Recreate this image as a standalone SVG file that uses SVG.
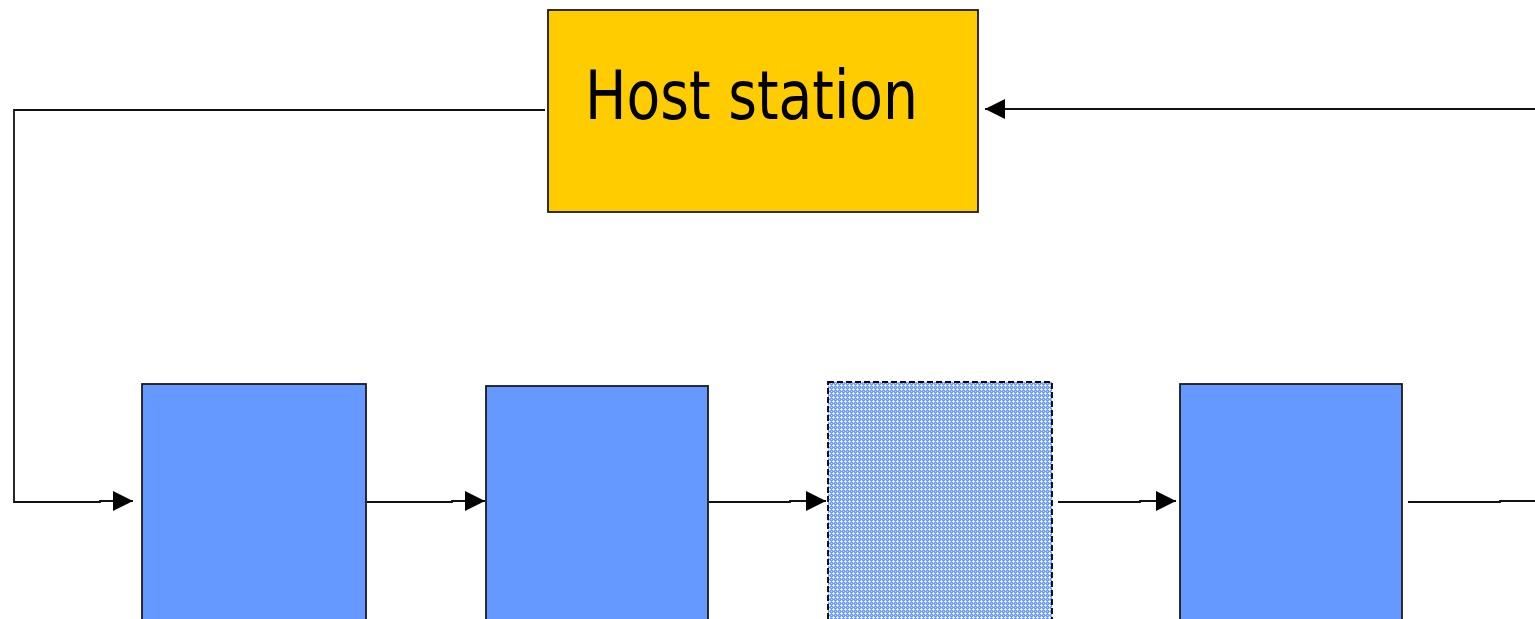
<svg xmlns="http://www.w3.org/2000/svg" width="1535" height="619" viewBox="0 0 1535 619">
  <style>
    .link { fill: none; stroke: #111; stroke-width: 1.8; }
    .block { fill: #6699ff; stroke: #1a1a1a; stroke-width: 1.8; }
    .host { fill: #ffcc00; stroke: #1a1a1a; stroke-width: 1.8; }
    .spare { fill: url(#hatch); stroke: #000; stroke-width: 1.8; stroke-dasharray: 6 3; }
    .label { font-family: "DejaVu Sans", Verdana, sans-serif; font-size: 67px; fill: #000; }
  </style>
  <defs>
    <marker id="arrow" markerUnits="userSpaceOnUse" markerWidth="20" markerHeight="20" refX="20" refY="10" orient="auto">
      <path d="M0,0 L20,10 L0,20 Z" fill="#000"/>
    </marker>
    <pattern id="hatch" patternUnits="userSpaceOnUse" width="4" height="4">
      <rect width="4" height="4" fill="#6f9cff"/>
      <rect x="1" y="0" width="1" height="3" fill="#ffffff" opacity="0.8"/>
      <rect x="0" y="1" width="3" height="1" fill="#ffffff" opacity="0.8"/>
      <rect x="3" y="3" width="1" height="1" fill="#c4d8ff"/>
    </pattern>
  </defs>

  <g id="connectors">
    <path class="link" d="M545,110 H14 V502 H100 V501 H133" marker-end="url(#arrow)"/>
    <path class="link" d="M367,502 H452 V501 H485" marker-end="url(#arrow)"/>
    <path class="link" d="M709,502 H790 V501 H826" marker-end="url(#arrow)"/>
    <path class="link" d="M1058,502 H1140 V501 H1176" marker-end="url(#arrow)"/>
    <path class="link" d="M1408,502 H1500 V501 H1535"/>
    <path class="link" d="M1535,109 H985" marker-end="url(#arrow)"/>
  </g>

  <g id="host-station">
    <rect class="host" x="548" y="10" width="430" height="202"/>
    <text class="label" x="585" y="119" textLength="333" lengthAdjust="spacingAndGlyphs">Host station</text>
  </g>

  <g id="block-1">
    <rect class="block" x="142" y="384" width="224" height="250"/>
  </g>
  <g id="block-2">
    <rect class="block" x="486" y="386" width="222" height="250"/>
  </g>
  <g id="block-3">
    <rect class="spare" x="828" y="382" width="224" height="250"/>
  </g>
  <g id="block-4">
    <rect class="block" x="1180" y="384" width="222" height="250"/>
  </g>
</svg>
